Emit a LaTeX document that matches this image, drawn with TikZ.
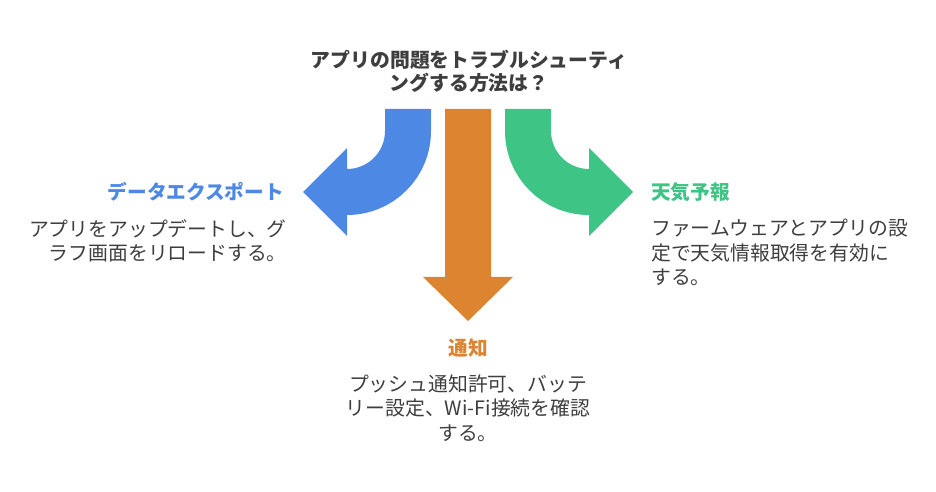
\documentclass[tikz,border=0pt]{standalone}
\usepackage{fontspec}
\setmainfont{Noto Sans CJK JP}
\usetikzlibrary{positioning}
\definecolor{blueArrow}{HTML}{4E88E5}
\definecolor{orangeArrow}{HTML}{DD8430}
\definecolor{greenArrow}{HTML}{3EC484}
\definecolor{bodyText}{HTML}{3E3E3E}
\begin{document}
\begin{tikzpicture}[x=1bp, y=1bp,
    title/.style = {inner sep=0, align=center, text=bodyText, font=\fontsize{19.9}{23.5}\selectfont\bfseries},
    head/.style = {inner sep=0, font=\fontsize{19.7}{24}\selectfont\bfseries},
    body/.style = {inner sep=0, text=bodyText, font=\fontsize{19.9}{24.4}\selectfont}]
            \useasboundingbox (0,0) rectangle (936,-492);
            % arrows
            \fill[blueArrow] (385,-109) -- (431,-109) -- (431,-131) arc (0:-90:84) -- (347,-236) -- (303,-192) -- (347,-148) -- (347,-169) arc (-90:0:38) -- cycle;
            \fill[orangeArrow] (445,-109) -- (491,-109) -- (491,-277) -- (513,-277) -- (468,-321) -- (423,-277) -- (445,-277) -- cycle;
            \fill[greenArrow] (551,-109) -- (505,-109) -- (505,-131) arc (180:270:84) -- (589,-236) -- (633,-192) -- (589,-148) -- (589,-169) arc (270:180:38) -- cycle;
            % texts
            \node[title] (q) at (469,-71.5) {アプリの問題をトラブルシューティ\\ングする方法は？};
            \node[head, text=blueArrow, anchor=east] (export) at (284,-192) {データエクスポート};
            \node[body, align=right, anchor=east] (exporttxt) at (287,-241) {アプリをアップデートし、グ\\ラフ画面をリロードする。};
            \node[head, text=greenArrow, anchor=west] (weather) at (651,-192) {天気予報};
            \node[body, align=left, anchor=west] (weathertxt) at (651,-252.5) {ファームウェアとアプリの設\\定で天気情報取得を有効に\\する。};
            \node[head, text=orangeArrow] (notify) at (468,-348) {通知};
            \node[body, align=center] (notifytxt) at (468,-408) {プッシュ通知許可、バッテ\\リー設定、Wi-Fi接続を確認\\する。};
        \end{tikzpicture}
\end{document}
